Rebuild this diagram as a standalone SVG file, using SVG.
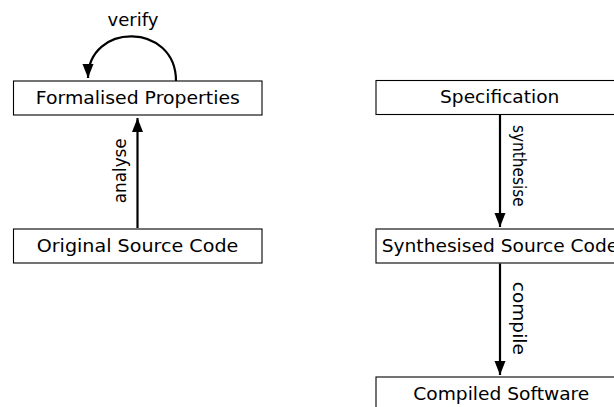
<svg xmlns="http://www.w3.org/2000/svg" width="614" height="407" viewBox="0 0 614 407">
<style>
.box{fill:#fff;stroke:#000;stroke-width:1.1}
.t{font-family:"DejaVu Sans",sans-serif;font-size:18.5px;text-anchor:middle;fill:#000}
.l{font-family:"DejaVu Sans",sans-serif;font-size:17px;text-anchor:middle;fill:#000}
.e{fill:none;stroke:#000;stroke-width:2.2}
</style>
<defs>
<marker id="ah" markerUnits="userSpaceOnUse" markerWidth="16" markerHeight="14" refX="14" refY="6" orient="auto">
<path d="M0,0.5 L14,6 L0,11.5 Z" fill="#000"/>
</marker>
</defs>
<g id="connectors">
<path class="e" d="M137.5,228 L137.5,118" marker-end="url(#ah)"/>
<path class="e" d="M176,81 C176,22 88,22 88,78" marker-end="url(#ah)"/>
<path class="e" d="M500,115 L500,227" marker-end="url(#ah)"/>
<path class="e" d="M500,263.5 L500,375" marker-end="url(#ah)"/>
<text class="l" x="133" y="26" textLength="51" lengthAdjust="spacingAndGlyphs">verify</text>
<text class="l" transform="translate(125.5,170.8) rotate(-90)" textLength="65" lengthAdjust="spacingAndGlyphs">analyse</text>
<text class="l" transform="translate(512.5,165.8) rotate(90)" textLength="81.7" lengthAdjust="spacingAndGlyphs">synthesise</text>
<text class="l" transform="translate(513,318.3) rotate(90)" textLength="73.3" lengthAdjust="spacingAndGlyphs">compile</text>
</g>
<g id="formalised">
<rect class="box" x="13.5" y="81" width="248.5" height="34"/>
<text class="t" x="137.8" y="103.5" textLength="204" lengthAdjust="spacingAndGlyphs">Formalised Properties</text>
</g>
<g id="original">
<rect class="box" x="13.5" y="229" width="248.5" height="34"/>
<text class="t" x="137.5" y="251.5" textLength="201.6" lengthAdjust="spacingAndGlyphs">Original Source Code</text>
</g>
<g id="specification">
<rect class="box" x="376" y="80.5" width="248.5" height="34"/>
<text class="t" x="499.7" y="103" textLength="119.3" lengthAdjust="spacingAndGlyphs">Specification</text>
</g>
<g id="synthesised">
<rect class="box" x="376" y="229" width="248.5" height="34"/>
<text class="t" x="500" y="251.5" textLength="236.6" lengthAdjust="spacingAndGlyphs">Synthesised Source Code</text>
</g>
<g id="compiled">
<rect class="box" x="376" y="377" width="248.5" height="34"/>
<text class="t" x="501.3" y="399.5" textLength="176" lengthAdjust="spacingAndGlyphs">Compiled Software</text>
</g>
</svg>
